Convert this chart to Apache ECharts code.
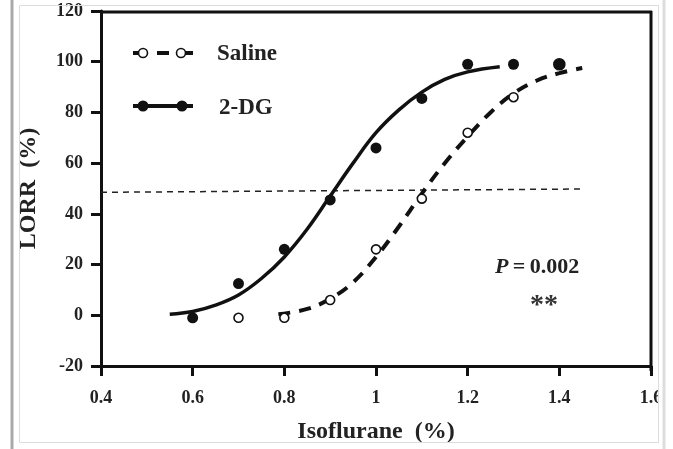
<!DOCTYPE html>
<html>
<head>
<meta charset="utf-8">
<style>
  html, body { margin: 0; padding: 0; background: #fff; }
  #chart { width: 673px; height: 449px; }
</style>
<script src="https://cdn.jsdelivr.net/npm/echarts@6/dist/echarts.min.js"></script>
</head>
<body>
<div id="chart"></div>
<script>
// 数据点 [isoflurane %, LORR %]
const salinePoints = [[0.7, -1], [0.8, -1], [0.9, 6], [1.0, 26], [1.1, 46], [1.2, 72], [1.3, 86], [1.4, 99]]
const dgPoints = [[0.6, -1], [0.7, 12.5], [0.8, 26], [0.9, 45.5], [1.0, 66], [1.1, 85.5], [1.2, 99], [1.3, 99]]
// 拟合曲线
const salineCurve = [[0.787, 0.4], [0.85, 2.5], [0.9, 6.5], [0.95, 13], [1.0, 23], [1.05, 35], [1.1, 48], [1.15, 60],
  [1.2, 70.5], [1.25, 80], [1.3, 87.5], [1.35, 92.5], [1.4, 95.5], [1.45, 97.5]]
const dgCurve = [[0.55, 0.4], [0.6, 1.5], [0.65, 4], [0.7, 8], [0.75, 14.5], [0.8, 23], [0.85, 34], [0.9, 47],
  [0.95, 60], [1.0, 72], [1.05, 81], [1.1, 88], [1.15, 93], [1.2, 96], [1.27, 98]]
const halfLine = [[0.4, 48.5], [1.45, 49.8]]
const xTicks = { 0.4: '0.4', 0.6: '0.6', 0.8: '0.8', 1: '1', 1.2: '1.2', 1.4: '1.4', 1.6: '1.6' }

const font = 'Liberation Serif'
const chart = echarts.init(document.getElementById('chart'))

const option = {
  backgroundColor: '#fff',
  animation: false,
  grid: { left: 101, right: 22, top: 11, bottom: 79, show: false },
  xAxis: {
    type: 'value', min: 0.4, max: 1.6, interval: 0.2,
    name: 'Isoflurane  (%)', nameLocation: 'middle', nameGap: 54,
    nameTextStyle: { fontFamily: font, fontWeight: 'bold', fontSize: 24, color: '#222' },
    axisLine: { onZero: false, lineStyle: { color: '#111', width: 3 } },
    axisTick: { length: 10, lineStyle: { color: '#111', width: 3 } },
    axisLabel: {
      margin: 23, fontFamily: font, fontWeight: 'bold', fontSize: 18, color: '#222',
      formatter: v => xTicks[Math.round(v * 10) / 10] || ''
    },
    splitLine: { show: false }
  },
  yAxis: {
    type: 'value', min: -20, max: 120, interval: 20,
    name: 'LORR  (%)', nameLocation: 'middle', nameGap: 60, nameRotate: 90,
    nameTextStyle: { fontFamily: font, fontWeight: 'bold', fontSize: 24, color: '#222' },
    axisLine: { onZero: false, lineStyle: { color: '#111', width: 3 } },
    axisTick: { length: 10, lineStyle: { color: '#111', width: 3 } },
    axisLabel: { margin: 18, fontFamily: font, fontWeight: 'bold', fontSize: 18, color: '#222' },
    splitLine: { show: false }
  },
  series: [
    {
      type: 'line', data: halfLine, showSymbol: false, silent: true,
      lineStyle: { color: '#222', width: 1.5, type: [6, 5] }
    },
    {
      type: 'line', data: dgCurve, smooth: 0.4, showSymbol: false, silent: true,
      lineStyle: { color: '#111', width: 3.5 }
    },
    {
      type: 'line', data: salineCurve, smooth: 0.4, showSymbol: false, silent: true,
      lineStyle: { color: '#111', width: 4, type: [12, 9] }
    },
    {
      type: 'scatter', data: dgPoints, symbol: 'circle', symbolSize: 11, z: 5,
      itemStyle: { color: '#111', opacity: 1 }
    },
    {
      type: 'scatter', symbol: 'circle', symbolSize: 9, z: 5,
      data: salinePoints.map((p, i) => i === salinePoints.length - 1
        ? { value: p, symbolSize: 11, itemStyle: { color: '#111', borderColor: '#111' } }
        : p),
      itemStyle: { color: '#fff', borderColor: '#111', borderWidth: 1.6, opacity: 1 }
    }
  ],
  graphic: [
    // 外框
    { type: 'rect', z: 100, shape: { x: 658, y: 0, width: 15, height: 449 }, style: { fill: '#fff' } },
    { type: 'rect', z: 101, shape: { x: 19.5, y: 5.5, width: 639, height: 437 }, style: { fill: null, stroke: '#ddd', lineWidth: 1 } },
    { type: 'line', z: 101, shape: { x1: 12, y1: 0, x2: 12, y2: 449 }, style: { stroke: '#aaa', lineWidth: 3 } },
    { type: 'line', z: 101, shape: { x1: 664, y1: 0, x2: 664, y2: 449 }, style: { stroke: '#ddd', lineWidth: 3 } },
    // 上、右边框
    { type: 'line', z: 50, shape: { x1: 100, y1: 12, x2: 652, y2: 12 }, style: { stroke: '#111', lineWidth: 3 } },
    { type: 'line', z: 50, shape: { x1: 651, y1: 11, x2: 651, y2: 371 }, style: { stroke: '#111', lineWidth: 3 } },
    // 图例
    { type: 'line', z: 50, shape: { x1: 133, y1: 53, x2: 145, y2: 53 }, style: { stroke: '#111', lineWidth: 4 } },
    { type: 'line', z: 50, shape: { x1: 157, y1: 53, x2: 169, y2: 53 }, style: { stroke: '#111', lineWidth: 4 } },
    { type: 'line', z: 50, shape: { x1: 181, y1: 53, x2: 193, y2: 53 }, style: { stroke: '#111', lineWidth: 4 } },
    { type: 'circle', z: 51, shape: { cx: 143, cy: 53, r: 4.5 }, style: { fill: '#fff', stroke: '#111', lineWidth: 1.6 } },
    { type: 'circle', z: 51, shape: { cx: 181, cy: 53, r: 4.5 }, style: { fill: '#fff', stroke: '#111', lineWidth: 1.6 } },
    { type: 'text', z: 51, x: 217, y: 54, style: { text: 'Saline', font: 'bold 23px "Liberation Serif"', fill: '#222', verticalAlign: 'middle' } },
    { type: 'line', z: 50, shape: { x1: 133, y1: 106, x2: 193, y2: 106 }, style: { stroke: '#111', lineWidth: 4 } },
    { type: 'circle', z: 51, shape: { cx: 143, cy: 106, r: 5.5 }, style: { fill: '#111' } },
    { type: 'circle', z: 51, shape: { cx: 182, cy: 106, r: 5.5 }, style: { fill: '#111' } },
    { type: 'text', z: 51, x: 219, y: 108, style: { text: '2-DG', font: 'bold 23px "Liberation Serif"', fill: '#222', verticalAlign: 'middle' } },
    // 注释
    {
      type: 'text', z: 51, x: 495, y: 267,
      style: {
        text: '{i|P}{n|\u2009=\u20090.002}', verticalAlign: 'middle',
        rich: {
          i: { fontFamily: font, fontStyle: 'italic', fontWeight: 'bold', fontSize: 22, fill: '#222' },
          n: { fontFamily: font, fontWeight: 'bold', fontSize: 22, fill: '#222' }
        }
      }
    },
    { type: 'text', z: 51, x: 530, y: 306, style: { text: '**', font: 'bold 28px "Liberation Serif"', fill: '#333', verticalAlign: 'middle' } }
  ]
}

chart.setOption(option)
</script>
</body>
</html>
